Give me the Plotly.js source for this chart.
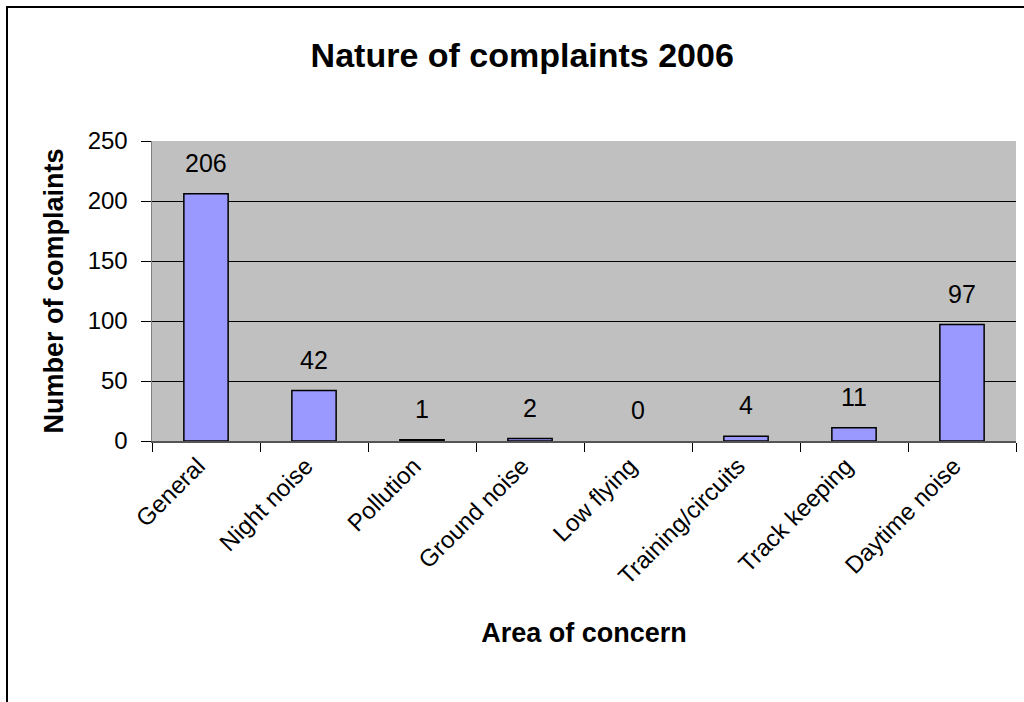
<!DOCTYPE html>
<html>
<head>
<meta charset="utf-8">
<script src="https://cdn.plot.ly/plotly-3.0.1.min.js"></script>
<style>
html,body{margin:0;padding:0;background:#fff;}
#chart{width:1024px;height:702px;}
#frame{position:absolute;left:6px;top:6px;width:2000px;height:2000px;border:2px solid #000;pointer-events:none;}
</style>
</head>
<body>
<div id="chart"></div>
<div id="frame"></div>
<script>
var categories = ["General", "Night noise", "Pollution", "Ground noise", "Low flying", "Training/circuits", "Track keeping", "Daytime noise"];
var complaints = [206, 42, 1, 2, 0, 4, 11, 97];
var yTicks = [0, 50, 100, 150, 200, 250];

var font = "Liberation Sans, Arial, sans-serif";

var trace = {
  type: "bar",
  x: categories,
  y: complaints,
  marker: {
    color: "#9999FF",
    line: {color: "#000000", width: complaints.map(function (v) { return v === 0 ? 0 : 1.5; })}
  },
  hoverinfo: "x+y"
};

var labels = categories.map(function (c, i) {
  return {
    x: c, y: complaints[i], xref: "x", yref: "y",
    text: String(complaints[i]), showarrow: false,
    yanchor: "middle", yshift: 31,
    font: {family: font, size: 25, color: "#000"}
  };
});

var layout = {
  width: 1024, height: 702,
  margin: {l: 152, r: 8, t: 141, b: 260.5, pad: 0},
  paper_bgcolor: "#ffffff",
  plot_bgcolor: "#C0C0C0",
  showlegend: false,
  bargap: 0.59,
  title: {
    text: "<b>Nature of complaints 2006</b>",
    font: {family: font, size: 34, color: "#000"},
    x: 0.51, xref: "container", xanchor: "center",
    y: 0.922, yref: "container", yanchor: "middle"
  },
  xaxis: {
    type: "category",
    tickson: "boundaries",
    ticks: "outside", ticklen: 9, tickcolor: "#000", tickwidth: 1,
    tickangle: -45,
    ticklabelshift: -8,
    tickfont: {family: font, size: 24, color: "#000"},
    showline: true, linecolor: "#555", linewidth: 1.5,
    showgrid: false,
    automargin: false,
    title: {
      text: "<b>Area of concern</b>",
      font: {family: font, size: 27, color: "#000"},
      standoff: 34
    }
  },
  yaxis: {
    range: [0, 250],
    tickvals: yTicks,
    ticktext: yTicks.map(String),
    ticks: "outside", ticklen: 10, tickcolor: "#000", tickwidth: 1,
    ticklabelstandoff: 8,
    tickfont: {family: font, size: 24, color: "#000"},
    showline: true, linecolor: "#808080", linewidth: 1.5,
    showgrid: true, gridcolor: "#000000", gridwidth: 1,
    zeroline: false,
    automargin: false,
    title: {
      text: "<b>Number of complaints</b>",
      font: {family: font, size: 27, color: "#000"},
      standoff: 16
    }
  },
  annotations: labels
};

Plotly.newPlot("chart", [trace], layout, {displayModeBar: false, staticPlot: true});
</script>
</body>
</html>
